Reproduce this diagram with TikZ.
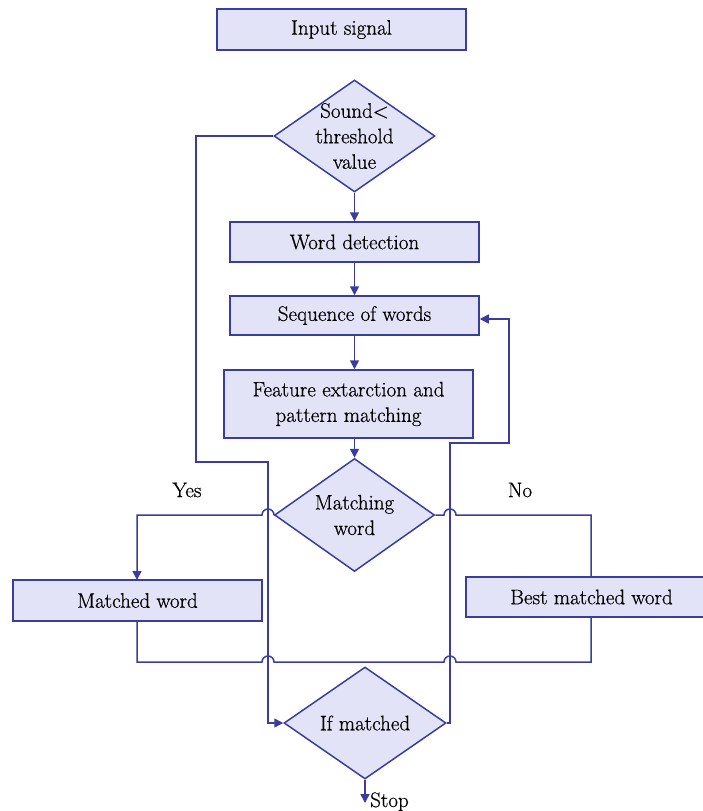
\documentclass[tikz,border=0pt]{standalone}
\usepackage{fontspec}
\setmainfont{Latin Modern Roman}[FakeBold=0.6]
\usetikzlibrary{shapes.geometric,arrows.meta}
\definecolor{flowline}{RGB}{58,60,158}
\definecolor{flowfill}{RGB}{227,227,247}
\begin{document}
\begin{tikzpicture}[x=1pt,y=-1pt,
  font=\fontsize{21}{25.5}\selectfont,
  every node/.style={inner sep=0pt, text=black},
  procbox/.style={draw=flowline, fill=flowfill, line width=1.5pt,
    rectangle, align=center},
  decision/.style={draw=flowline, fill=flowfill, line width=1.5pt,
    diamond},
  link/.style={draw=flowline, line width=1.5pt},
  arr/.style={link, -{Triangle[length=9pt,width=9pt]}},
  hop/.style={radius=6}
]
\useasboundingbox (0,0) rectangle (703,811);

% process boxes
\node[procbox, minimum width=249, minimum height=41] (inp) at (341.5,29.5) {Input signal};
\node[procbox, minimum width=249, minimum height=40] (wd) at (354.5,242) {Word detection};
\node[procbox, minimum width=249, minimum height=39] (sw) at (354.5,315.5) {Sequence of words};
\node[procbox, minimum width=249, minimum height=68] (fe) at (348.5,404)
  {Feature extarction and\\pattern matching};
\node[procbox, minimum width=249, minimum height=41] (mw) at (137.5,600.5) {Matched word};
\node[procbox, minimum width=251, minimum height=40] (bmw) at (591.5,597) {Best matched word};

% decisions
\node[decision, minimum width=161, minimum height=112,
  label={[align=center]center:Sound<\\threshold\\value}] (thr) at (354.5,136) {};
\node[decision, minimum width=160, minimum height=113,
  label={[align=center]center:Matching\\word}] (mtc) at (354.5,515) {};
\node[decision, minimum width=162, minimum height=112,
  label={[align=center]center:If matched}] (ifm) at (365,723) {};

% end point and branch labels
\coordinate (stopend) at (365,803);
\node[anchor=base west] (stop) at (370,807) {Stop};
\node (yes) at (187,490) {Yes};
\node (no) at (520,490) {No};

% main flow
\draw[arr] (thr.south) -- (wd.north);
\draw[arr] (wd.south) -- (sw.north);
\draw[arr] (sw.south) -- (sw.south |- fe.north);
\draw[arr] (mtc.north |- fe.south) -- (mtc.north);
\draw[arr] (ifm.south) -- (stopend);

% bypass from the threshold test to the final test
\draw[arr] (thr.west) -- (196,136) -- (196,462) -- (268,462) -- (268,723) -- (ifm.west);

% loop back from the final test to the word sequence
\draw[arr] (ifm.east) -- (450,723) -- (450,443) -- (509,443) -- (509,319) -- (sw.east |- 0,319);

% yes branch, hopping over the bypass line
\draw[arr] (mtc.west) -- (274,515) arc[start angle=0,end angle=-180,hop] -- (137,515) -- (137,580);

% no branch, hopping over the loop line
\draw[link] (mtc.east) -- (444,515) arc[start angle=180,end angle=360,hop] -- (591,515) -- (591,577);

% joining line under both results
\draw[link] (137,621) -- (137,662) -- (262,662) arc[start angle=180,end angle=360,hop]
  -- (444,662) arc[start angle=180,end angle=360,hop] -- (591,662) -- (591,617);
\end{tikzpicture}
\end{document}
